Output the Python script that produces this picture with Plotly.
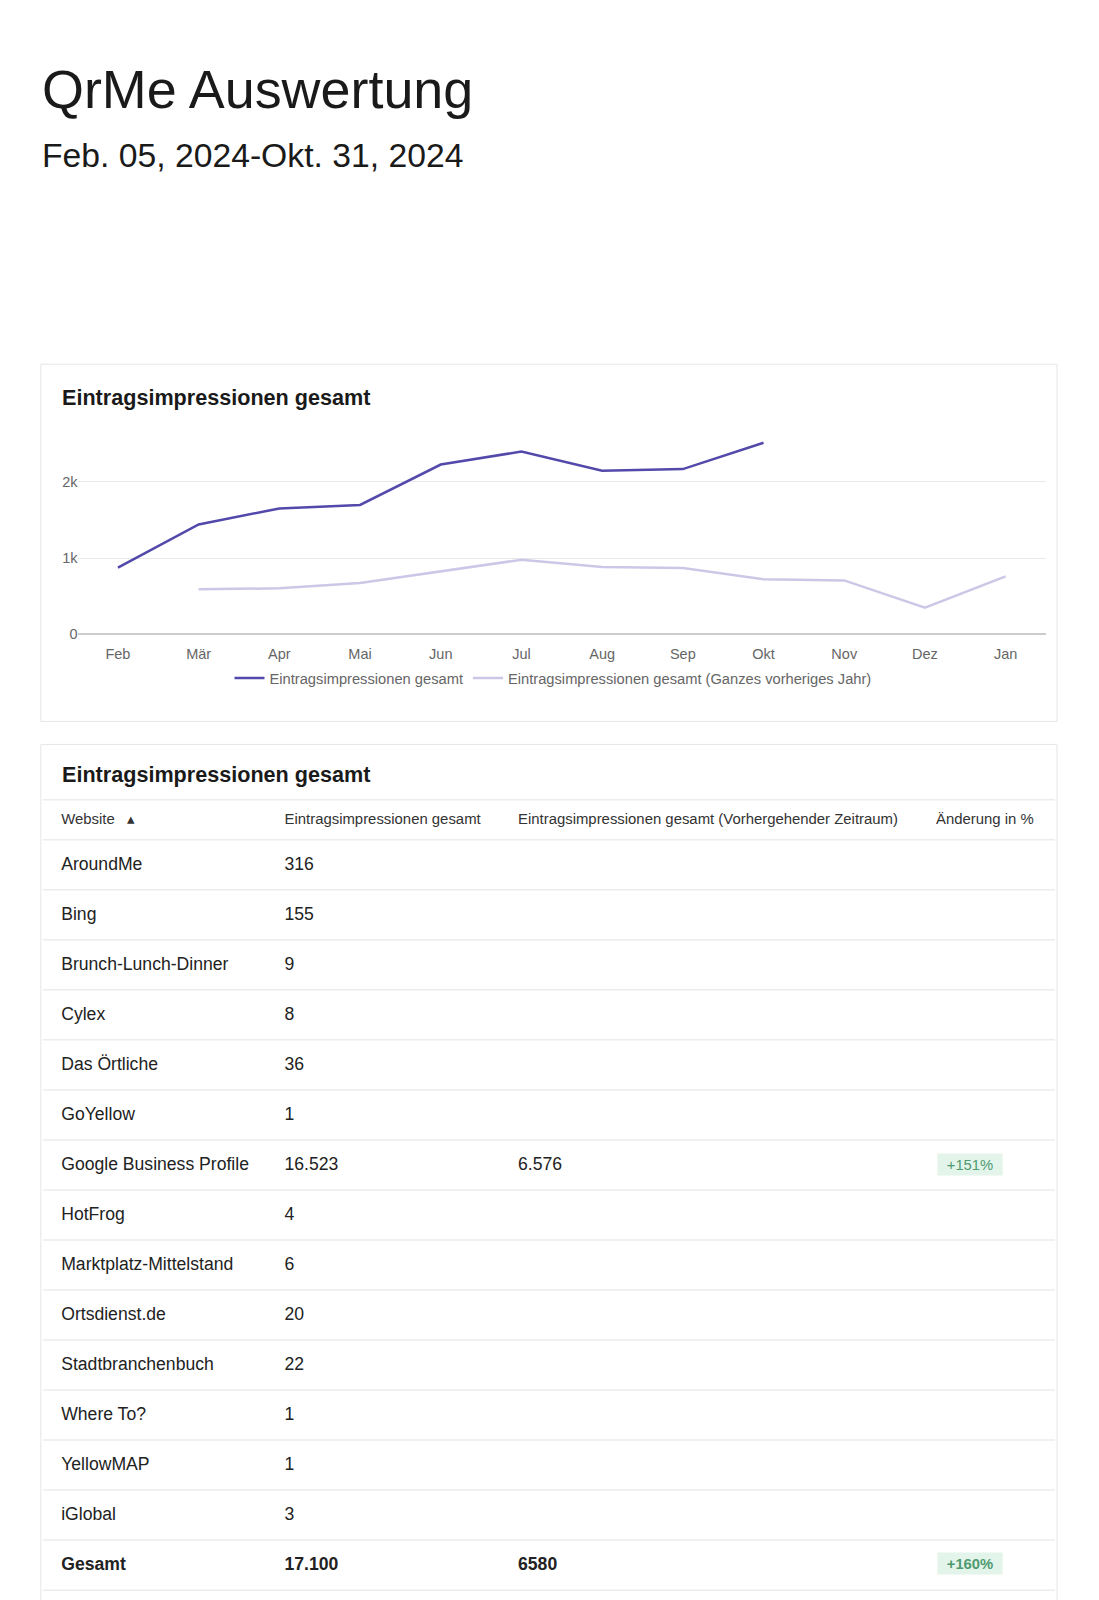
import plotly.graph_objects as go

# Monatsdaten (Linienchart)
monate = ['Feb', 'Mär', 'Apr', 'Mai', 'Jun', 'Jul', 'Aug', 'Sep', 'Okt', 'Nov', 'Dez', 'Jan']
impressionen = [875, 1440, 1650, 1695, 2225, 2395, 2145, 2165, 2510, None, None, None]
impressionen_vorjahr = [None, 590, 603, 672, 821, 978, 882, 869, 721, 707, 349, 760]

# Tabellendaten
websites = ['AroundMe', 'Bing', 'Brunch-Lunch-Dinner', 'Cylex', 'Das Örtliche', 'GoYellow',
            'Google Business Profile', 'HotFrog', 'Marktplatz-Mittelstand', 'Ortsdienst.de',
            'Stadtbranchenbuch', 'Where To?', 'YellowMAP', 'iGlobal']
aktuell = [316, 155, 9, 8, 36, 1, 16523, 4, 6, 20, 22, 1, 1, 3]
vorher = [None, None, None, None, None, None, 6576, None, None, None, None, None, None, None]
aenderung = ['', '', '', '', '', '', '+151%', '', '', '', '', '', '', '']
gesamt = ['Gesamt', '17.100', '6580', '+160%']
kopf = ['Website', 'Eintragsimpressionen gesamt',
        'Eintragsimpressionen gesamt (Vorhergehender Zeitraum)', 'Änderung in %']

W, H = 1099, 1600
OFF = 8       # Rand des Seitenkörpers ausgleichen
SY = 0.9945   # vertikale Stauchung im Screenshot
FONT = 'Liberation Sans, Arial, sans-serif'


def fx(px):
    return (px - OFF) / W


def fy(py):
    return 1 - (py / SY - OFF) / H


def de(n):
    if n is None:
        return ''
    return f'{n:,}'.replace(',', '.')


fig = go.Figure()

fig.add_trace(go.Scatter(x=monate, y=impressionen, mode='lines', name='Eintragsimpressionen gesamt',
                         line=dict(color='#5249ab', width=2.5), connectgaps=False))
fig.add_trace(go.Scatter(x=monate, y=impressionen_vorjahr, mode='lines',
                         name='Eintragsimpressionen gesamt (Ganzes vorheriges Jahr)',
                         line=dict(color='#cdc7e7', width=2.5), connectgaps=False))

# Tabelle
zeile_h = 50
kopf_h = 40
tab_top = 799.3
spalten_breite = [223.5, 233.7, 418.3, 126.3]
leer = dict(color='rgba(0,0,0,0)')
ohne_linie = dict(color='rgba(0,0,0,0)', width=0)

oben = (tab_top + 5.5) / SY - OFF  # Oberkante in Figurpixeln
fig.add_trace(go.Table(
    domain=dict(x=[fx(53.2), fx(1055)], y=[0, 1 - oben / H]),
    columnwidth=spalten_breite,
    header=dict(values=[kopf[0] + '   ▴'] + kopf[1:],
                align='left', height=kopf_h + 3.2,
                font=dict(family=FONT, size=14.9, color='#333333'),
                fill=leer, line=ohne_linie),
    cells=dict(values=[websites, [de(v) for v in aktuell], [de(v) for v in vorher],
                       ['' for _ in aenderung]],
               align='left', height=zeile_h,
               font=dict(family=FONT, size=17.6, color='#222222'),
               fill=leer, line=ohne_linie),
))

# Summenzeile
oben2 = oben + kopf_h + 3.2 + zeile_h * len(websites) - 12.2
fig.add_trace(go.Table(
    domain=dict(x=[fx(53.2), fx(1055)], y=[0, 1 - oben2 / H]),
    columnwidth=spalten_breite,
    header=dict(values=[], height=0, fill=leer, line=ohne_linie),
    cells=dict(values=[[gesamt[0]], [gesamt[1]], [gesamt[2]], ['']],
               align='left', height=zeile_h,
               font=dict(family=FONT, size=17.6, color='#222222', weight='bold'),
               fill=leer, line=ohne_linie),
))

shapes = []
# Karten
shapes.append(dict(type='rect', xref='paper', yref='paper', x0=fx(40.8), x1=fx(1057),
                   y0=fy(721), y1=fy(364), line=dict(color='#e6e6e6', width=1), layer='below'))
shapes.append(dict(type='rect', xref='paper', yref='paper', x0=fx(40.8), x1=fx(1057),
                   y0=fy(1640), y1=fy(744), line=dict(color='#e6e6e6', width=1), layer='below'))
# Zeilentrenner
linien_y = [tab_top, tab_top + kopf_h] + [tab_top + kopf_h + zeile_h * (i + 1) for i in range(len(websites) + 1)]
for ly in linien_y:
    shapes.append(dict(type='line', xref='paper', yref='paper', x0=fx(42.9), x1=fx(1055),
                       y0=fy(ly), y1=fy(ly), line=dict(color='#ececec', width=1.5), layer='below'))

titel = dict(xref='paper', yref='paper', xanchor='left', yanchor='middle', showarrow=False)
annotations = [
    dict(titel, text='QrMe Auswertung', x=fx(39.5), y=fy(89),
         font=dict(family=FONT, size=53.9, color='#1a1a1a')),
    dict(titel, text='Feb. 05, 2024-Okt. 31, 2024', x=fx(39.5), y=fy(155),
         font=dict(family=FONT, size=33.7, color='#1a1a1a')),
    dict(titel, text='<b>Eintragsimpressionen gesamt</b>', x=fx(59.5), y=fy(397),
         font=dict(family=FONT, size=21.6, color='#1a1a1a')),
    dict(titel, text='<b>Eintragsimpressionen gesamt</b>', x=fx(59.5), y=fy(774.5),
         font=dict(family=FONT, size=21.6, color='#1a1a1a')),
]

# Badges für Änderung in %
badge = dict(titel, font=dict(family=FONT, size=14.8, color='#4f9a70'), bgcolor='#e3f4eb',
             borderpad=3, width=58, height=15, align='center', x=fx(936.7))
for i, txt in enumerate(aenderung):
    if txt:
        yc = tab_top + kopf_h + zeile_h * i + zeile_h / 2 - 0.5
        annotations.append(dict(badge, text=txt, y=fy(yc)))
yc = tab_top + kopf_h + zeile_h * len(websites) + zeile_h / 2 - 1.5
annotations.append(dict(badge, text='<b>' + gesamt[3] + '</b>', y=fy(yc)))

fig.update_layout(
    width=W, height=H,
    margin=dict(l=0, r=0, t=0, b=0),
    paper_bgcolor='white', plot_bgcolor='white',
    font=dict(family=FONT, color='#666666'),
    shapes=shapes, annotations=annotations,
    showlegend=True,
    legend=dict(orientation='h', x=fx(553), xanchor='center', y=fy(678), yanchor='middle',
                font=dict(family=FONT, size=14.7, color='#666666'), itemwidth=30,
                bgcolor='rgba(0,0,0,0)'),
    xaxis=dict(domain=[fx(77.6), fx(1046)], range=[-0.5, 11.5], type='category',
               showgrid=False, showline=False, zeroline=False,
               tickfont=dict(family=FONT, size=14.5, color='#666666'), ticklabelstandoff=9,
               fixedrange=True),
    yaxis=dict(domain=[fy(634), fy(428)], range=[0, 2700], tickvals=[0, 1000, 2000],
               ticktext=['0', '1k', '2k'], showgrid=True, gridcolor='#e8e8e8', gridwidth=1,
               zeroline=True, zerolinecolor='#cccccc', zerolinewidth=2, showline=False,
               tickfont=dict(family=FONT, size=14.5, color='#666666'), ticklabelstandoff=-1,
               fixedrange=True),
)

fig.write_html('out.html')
